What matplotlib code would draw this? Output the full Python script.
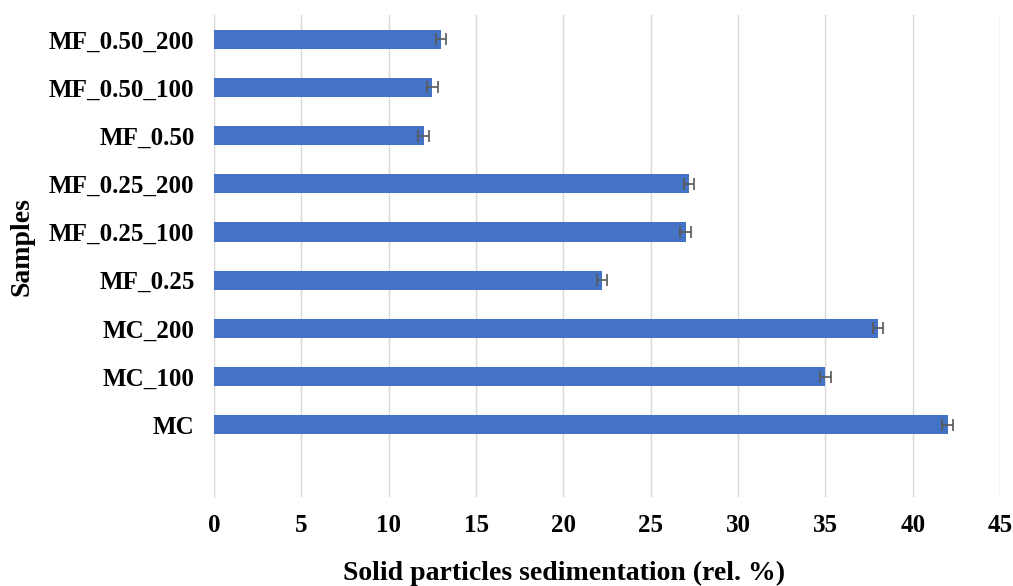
import matplotlib.pyplot as plt
import matplotlib.ticker as tckr

# Data (bottom to top)
samples = ['MC', 'MC_100', 'MC_200', 'MF_0.25', 'MF_0.25_100',
           'MF_0.25_200', 'MF_0.50', 'MF_0.50_100', 'MF_0.50_200']
sedimentation = [42.0, 35.0, 38.0, 22.2, 27.0, 27.2, 12.0, 12.5, 13.0]
errors = [0.3, 0.3, 0.3, 0.3, 0.3, 0.3, 0.3, 0.3, 0.3]

plt.rcParams['font.family'] = ['Liberation Serif', 'DejaVu Serif']
plt.rcParams['font.weight'] = 'bold'

fig = plt.figure(figsize=(10.13, 5.86), dpi=100)
ax = fig.add_axes([0.2113, 0.152, 0.776, 0.822])

pos = list(range(len(samples)))
ax.barh(pos, sedimentation, height=0.4, color='#4472C4', zorder=3,
        xerr=errors, error_kw=dict(ecolor='#595959', elinewidth=1.2,
                                   capsize=4.5, capthick=1.2, zorder=4))

ax.set_xlim(0, 45)
ax.set_ylim(-1.5, 8.5)
ax.xaxis.set_major_locator(tckr.MultipleLocator(5))
ax.set_yticks(pos)
ax.set_yticklabels(samples)

ax.grid(True, axis='x', color='#D9D9D9', linewidth=1, zorder=0)
for s in ['top', 'right', 'bottom']:
    ax.spines[s].set_visible(False)
ax.spines['left'].set_color('#D9D9D9')
ax.spines['left'].set_zorder(1)

ax.tick_params(axis='both', length=0, labelsize=18)
ax.tick_params(axis='x', pad=12)
ax.tick_params(axis='y', pad=14)
for lbl in ax.get_xticklabels() + ax.get_yticklabels():
    lbl.set_fontweight('bold')

ax.set_xlabel('Solid particles sedimentation (rel. %)', fontsize=20,
              fontweight='bold', va='center')
ax.xaxis.set_label_coords(0.5 - 0.055, -0.158)
ax.set_ylabel('Samples', fontsize=20, fontweight='bold', va='center')
ax.yaxis.set_label_coords(-0.244, 0.52)

fig.savefig('out.png', dpi=100)
plt.close(fig)
